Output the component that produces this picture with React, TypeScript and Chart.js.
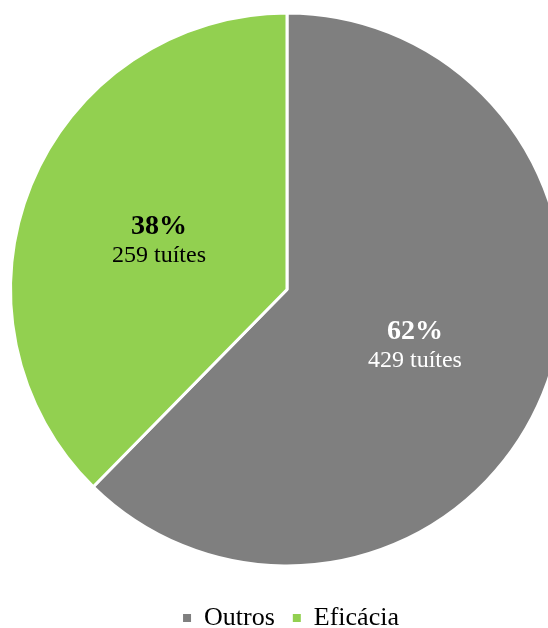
import React, { useEffect, useRef } from "react";
import { Chart, registerables } from "chart.js";

Chart.register(...registerables);

const categories = ["Outros", "Eficácia"];
const tweetCounts = [429, 259];
const percentLabels = ["62%", "38%"];
const countLabels = ["429 tuítes", "259 tuítes"];
const sliceColors = ["#7F7F7F", "#92D050"];
const labelColors = ["#FFFFFF", "#000000"];

const SERIF = '"Liberation Serif", "Times New Roman", Times, serif';

const sliceLabelPlugin = {
  id: "sliceLabels",
  afterDatasetsDraw(chart: any) {
    const ctx = chart.ctx;
    const meta = chart.getDatasetMeta(0);
    meta.data.forEach((arc: any, i: number) => {
      const p = arc.getCenterPoint();
      ctx.save();
      ctx.textAlign = "center";
      ctx.textBaseline = "alphabetic";
      ctx.fillStyle = labelColors[i];
      ctx.font = `bold 28px ${SERIF}`;
      ctx.fillText(percentLabels[i], p.x, p.y - 3);
      ctx.font = `24px ${SERIF}`;
      ctx.fillText(countLabels[i], p.x, p.y + 25);
      ctx.restore();
    });
  },
};

const legendNudgePlugin = {
  id: "legendNudge",
  afterLayout(chart: any) {
    const lg = chart.legend;
    if (!lg) return;
    lg.left += 4;
    lg.right += 4;
    lg.top += 1;
    lg.bottom += 1;
  },
};

export default function App() {
  const canvasRef = useRef<HTMLCanvasElement | null>(null);

  useEffect(() => {
    if (!canvasRef.current) return;
    const chart = new Chart(canvasRef.current, {
      type: "pie",
      data: {
        labels: categories,
        datasets: [
          {
            data: tweetCounts,
            backgroundColor: sliceColors,
            borderColor: "#FFFFFF",
            borderWidth: 3,
          },
        ],
      },
      options: {
        responsive: false,
        animation: false,
        layout: { padding: { left: 9, right: 9, top: 0, bottom: 0 } },
        plugins: {
          tooltip: { enabled: false },
          legend: {
            position: "bottom",
            labels: {
              boxWidth: 8,
              boxHeight: 8,
              padding: 18,
              color: "#000000",
              font: { family: SERIF, size: 26 },
              generateLabels: (c: any) =>
                categories.map((t, i) => ({
                  text: t,
                  fillStyle: sliceColors[i],
                  strokeStyle: sliceColors[i],
                  lineWidth: 0,
                  hidden: false,
                  index: i,
                })),
            },
          },
        },
      },
      plugins: [sliceLabelPlugin, legendNudgePlugin],
    });
    return () => chart.destroy();
  }, []);

  return (
    <div
      style={{
        position: "fixed",
        left: 0,
        top: 0,
        width: 548,
        height: 628,
        overflow: "hidden",
        background: "#FFFFFF",
      }}
    >
      <canvas
        ref={canvasRef}
        width={574}
        height={647}
        style={{ position: "absolute", left: 0, top: -7, width: 574, height: 647 }}
      />
    </div>
  );
}
